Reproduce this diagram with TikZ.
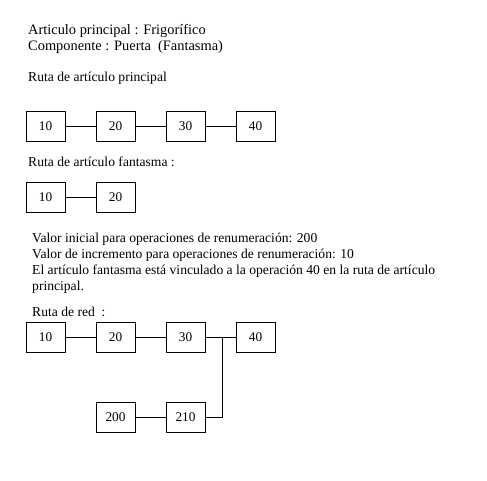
\documentclass[tikz,border=0pt]{standalone}
\usepackage{fontspec}
\setmainfont{Liberation Serif}
\usetikzlibrary{positioning}

\tikzset{
  opbox/.style={draw, line width=0.6pt, minimum width=39pt, minimum height=30pt, inner sep=0pt, font=\fontsize{13.3}{16}\selectfont},
  txt/.style={anchor=base west, inner sep=0pt, font=\fontsize{13.6}{16}\selectfont},
  hdr/.style={txt, font=\fontsize{14.4}{16}\selectfont},
  link/.style={line width=0.6pt}
}

\begin{document}
\begin{tikzpicture}[x=1pt, y=-1pt]
\useasboundingbox (0,0) rectangle (487,480);

% Header
\node[hdr] (hdrA) at (28,34) {Articulo principal : Frigorífico};
\node[hdr] (hdrB) at (28,50) {Componente : Puerta\ \ (Fantasma)};

% Main route
\node[txt] (ttlMain) at (28,81) {Ruta de artículo principal};
\node[opbox] (m10) at (45.5,126) {10};
\node[opbox] (m20) at (115.5,126) {20};
\node[opbox] (m30) at (185.5,126) {30};
\node[opbox] (m40) at (255.5,126) {40};
\draw[link] (m10) -- (m20);
\draw[link] (m20) -- (m30);
\draw[link] (m30) -- (m40);

% Phantom route
\node[txt] (ttlPh) at (28,166) {Ruta de artículo fantasma :};
\node[opbox] (p10) at (45.5,197) {10};
\node[opbox] (p20) at (115.5,197) {20};
\draw[link] (p10) -- (p20);

% Renumbering notes
\node[txt] (noteA) at (32,242) {Valor inicial para operaciones de renumeración: 200};
\node[txt] (noteB) at (32,258) {Valor de incremento para operaciones de renumeración: 10};
\node[txt] (noteC) at (32,274) {El artículo fantasma está vinculado a la operación 40 en la ruta de artículo};
\node[txt] (noteD) at (32,290) {principal.};

% Network route
\node[txt] (ttlNet) at (32,316) {Ruta de red\ \ :};
\node[opbox] (r10) at (45.5,337) {10};
\node[opbox] (r20) at (115.5,337) {20};
\node[opbox] (r30) at (185.5,337) {30};
\node[opbox] (r40) at (255.5,337) {40};
\node[opbox] (r200) at (115.5,417) {200};
\node[opbox] (r210) at (185.5,417) {210};
\coordinate (jn) at (222,337);
\draw[link] (r10) -- (r20);
\draw[link] (r20) -- (r30);
\draw[link] (r30) -- (r40);
\draw[link] (r200) -- (r210);
\draw[link] (r210.east) -| (jn);
\end{tikzpicture}
\end{document}
